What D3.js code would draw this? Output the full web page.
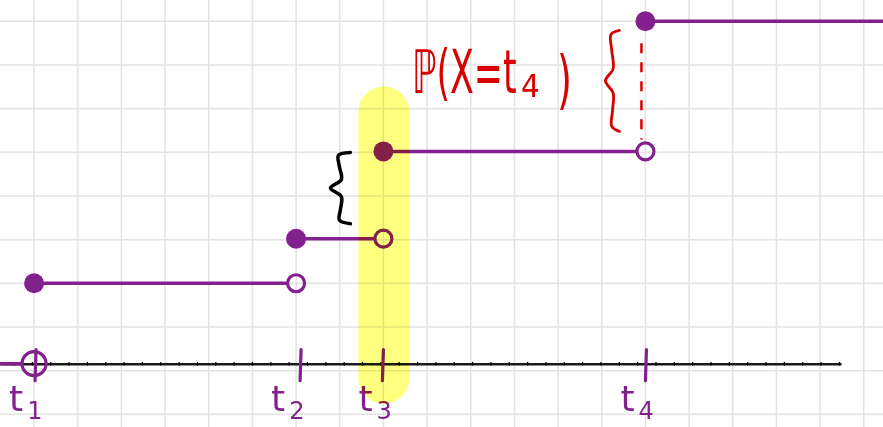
<!DOCTYPE html>
<html>
<head>
<meta charset="utf-8">
<script src="https://cdn.jsdelivr.net/npm/d3@7"></script>
<style>
  body { margin: 0; background: #fff; }
  svg { display: block; }
</style>
</head>
<body>
<script>
// jump points of the cdf (in grid units) and the value of F after each jump
const tValues = [0, 6, 8, 14];
const tSubs = ["1", "2", "3", "4"];
const cdfValues = [0.235, 0.365, 0.62, 1];
const highlightIdx = 2;   // t3 gets the yellow marker
const massIdx = 3;        // P(X = t4) annotation
const massLabel = "ℙ(X=t";

const width = 883, height = 427;
const purple = "#82208e", red = "#d90000";

const x = d3.scaleLinear().domain([-0.78, 19.44]).range([0, width]);
const y = d3.scaleLinear().domain([0, 1]).range([363.7, 21.3]);
const step = x(1) - x(0);

const svg = d3.select("body").append("svg")
    .attr("width", width)
    .attr("height", height);

// squared paper
const grid = svg.append("g").attr("stroke", "#e3e3e3").attr("stroke-width", 1.5);
grid.selectAll(".v").data(d3.range(0, 20)).enter().append("line")
    .attr("x1", d => x(d)).attr("x2", d => x(d))
    .attr("y1", 0).attr("y2", height);
grid.selectAll(".h").data(d3.range(0, 10)).enter().append("line")
    .attr("x1", 0).attr("x2", width)
    .attr("y1", d => y(1) + d * step).attr("y2", d => y(1) + d * step);

// horizontal axis
const axisX = x.copy().domain([-0.78, 18.48]).range([0, x(18.48)]);
const xAxis = d3.axisBottom(axisX)
    .tickValues(d3.range(-0.47, 18.45, 0.42))
    .tickSize(2)
    .tickSizeOuter(0)
    .tickFormat("");
const ax = svg.append("g")
    .attr("transform", "translate(0," + y(0) + ")")
    .call(xAxis);
ax.select(".domain").attr("stroke", "#1a1a1a").attr("stroke-width", 2.6);
ax.selectAll(".tick line").attr("y1", -1.8).attr("y2", 1.8).attr("stroke", "#000").attr("stroke-width", 1.3);

// step segments
const levels = [0].concat(cdfValues);
const starts = [x.domain()[0]].concat(tValues);
const ends = tValues.concat([x.domain()[1]]);
const openR = i => i === 0 ? 12 : 8.5;

svg.append("g").selectAll("line").data(levels).enter().append("line")
    .attr("x1", (d, i) => x(starts[i]))
    .attr("x2", (d, i) => i < tValues.length ? x(ends[i]) - openR(i) : x(ends[i]))
    .attr("y1", d => y(d)).attr("y2", d => y(d))
    .attr("stroke", purple)
    .attr("stroke-width", 3.5);

// tick marks at the jump points
const tickNudge = [2, 5, 0, 1];
svg.append("g").selectAll("line").data(tValues).enter().append("line")
    .attr("x1", (d, i) => x(d) + tickNudge[i]).attr("x2", (d, i) => x(d) + tickNudge[i] - 1)
    .attr("y1", y(0) - 14).attr("y2", y(0) + 17)
    .attr("stroke", purple)
    .attr("stroke-width", 3.2)
    .attr("stroke-linecap", "round");

// open circles (left limits) and filled dots (values)
svg.append("g").selectAll("circle").data(tValues).enter().append("circle")
    .attr("cx", d => x(d))
    .attr("cy", (d, i) => y(levels[i]))
    .attr("r", (d, i) => openR(i))
    .attr("fill", "none")
    .attr("stroke", purple)
    .attr("stroke-width", 3.2);

svg.append("g").selectAll("circle").data(tValues).enter().append("circle")
    .attr("cx", d => x(d))
    .attr("cy", (d, i) => y(cdfValues[i]))
    .attr("r", 10)
    .attr("fill", purple);

// labels t_i under the axis
const labels = svg.append("g").attr("fill", purple).attr("font-family", "DejaVu Sans");
const lab = labels.selectAll("text").data(tValues).enter().append("text")
    .attr("x", d => x(d) - 25)
    .attr("y", y(0) + 47)
    .attr("font-size", 36);
lab.append("tspan").text("t");
lab.append("tspan").attr("font-size", 24).attr("dy", 8).attr("dx", 4).text((d, i) => tSubs[i]);

// braces
const brace = d3.line().curve(d3.curveCatmullRom);
function bracePath(x0, x1, y0, y1) {
    const pts = [[1, 0], [0.4, 0.04], [0.45, 0.2], [0.55, 0.38], [0, 0.5], [0.55, 0.62], [0.5, 0.8], [0.45, 0.95], [1, 1]];
    return brace(pts.map(p => [x0 + p[0] * (x1 - x0), y0 + p[1] * (y1 - y0)]));
}

svg.append("path")
    .attr("d", bracePath(x(tValues[highlightIdx]) - 53, x(tValues[highlightIdx]) - 33,
        y(cdfValues[highlightIdx]) + 1, y(cdfValues[highlightIdx - 1]) - 15))
    .attr("fill", "none")
    .attr("stroke", "#000")
    .attr("stroke-width", 3.5)
    .attr("stroke-linecap", "round");

svg.append("path")
    .attr("d", bracePath(x(tValues[massIdx]) - 40, x(tValues[massIdx]) - 26,
        y(cdfValues[massIdx]) + 9, y(cdfValues[massIdx - 1]) - 20))
    .attr("fill", "none")
    .attr("stroke", red)
    .attr("stroke-width", 2.8)
    .attr("stroke-linecap", "round");

// dashed jump
svg.append("line")
    .attr("x1", x(tValues[massIdx]) - 4).attr("x2", x(tValues[massIdx]) - 4)
    .attr("y1", y(cdfValues[massIdx]) + 22).attr("y2", y(cdfValues[massIdx - 1]) - 12)
    .attr("stroke", red)
    .attr("stroke-width", 2.5)
    .attr("stroke-dasharray", "10 9");

// P(X = t4): narrow hand-written look, squeezed horizontally
const pg = svg.append("g")
    .attr("fill", red)
    .attr("font-family", "DejaVu Sans");
pg.append("text")
    .attr("transform", "translate(412,93) scale(0.58,1)")
    .attr("font-size", 60)
    .text(massLabel);
pg.append("text")
    .attr("transform", "translate(521,97) scale(0.92,1)")
    .attr("font-size", 32)
    .text(tSubs[massIdx]);
pg.append("text")
    .attr("transform", "translate(557,102) scale(0.6,1)")
    .attr("font-size", 64)
    .text(")");

// highlighter over t3
const hx = x(tValues[highlightIdx]);
svg.append("rect")
    .attr("x", hx - 25).attr("width", 51)
    .attr("y", y(cdfValues[highlightIdx]) - 65)
    .attr("height", y(0) + 40 - (y(cdfValues[highlightIdx]) - 65))
    .attr("rx", 25.5)
    .attr("fill", "#ffff80")
    .style("mix-blend-mode", "multiply");
</script>
</body>
</html>
